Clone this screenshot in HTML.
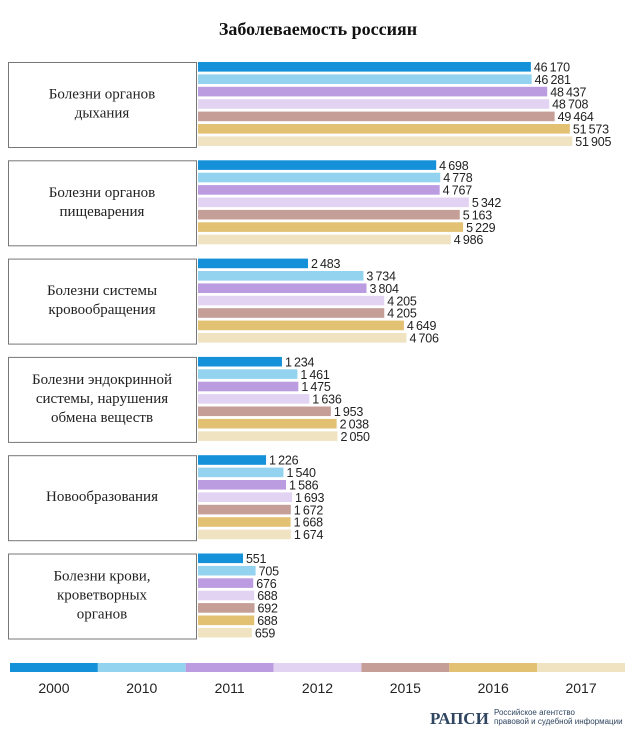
<!DOCTYPE html>
<html><head><meta charset="utf-8">
<style>
body{margin:0;width:640px;height:744px;background:#fff;overflow:hidden;font-family:"Liberation Sans",sans-serif}
svg{display:block}
</style></head><body>
<svg id="chart" width="640" height="744" viewBox="0 0 640 744">
<text x="318" y="35" text-anchor="middle" font-family="Liberation Serif, serif" font-weight="bold" font-size="18" fill="#111">Заболеваемость россиян</text>
<g id="groups"></g>
<g id="legend"></g>
<g>
<text x="430" y="724" font-family="Liberation Serif, serif" font-weight="bold" font-size="17" fill="#2f4560">РАПСИ</text>
<text x="494" y="715" font-size="8" fill="#2f4560">Российское агентство</text>
<text x="494" y="724" font-size="8" fill="#2f4560">правовой и судебной информации</text>
</g>
</svg>
<script>
const categories=[["Болезни органов","дыхания"],["Болезни органов","пищеварения"],["Болезни системы","кровообращения"],["Болезни эндокринной","системы, нарушения","обмена веществ"],["Новообразования"],["Болезни крови,","кроветворных","органов"]];
const years=["2000","2010","2011","2012","2015","2016","2017"];
const values=[
[46170,46281,48437,48708,49464,51573,51905],
[4698,4778,4767,5342,5163,5229,4986],
[2483,3734,3804,4205,4205,4649,4706],
[1234,1461,1475,1636,1953,2038,2050],
[1226,1540,1586,1693,1672,1668,1674],
[551,705,676,688,692,688,659]];
const groupDomainMax=[55480,7890,9030,5880,7207,4896];
const colors=["#1591d9","#93d3ef","#bb9ce0","#e3d3f3","#c59f97","#e2c173","#efe3c2"];
const NS="http://www.w3.org/2000/svg";
const X0=198,W=400;
function xScale(g,v){return X0+v/groupDomainMax[g]*W;}
function mk(t,a){const e=document.createElementNS(NS,t);for(const k in a)e.setAttribute(k,a[k]);return e;}
function fmt(v){const s=String(v);return s.length>3?s.slice(0,s.length-3)+"\u2009"+s.slice(-3):s;}
const G=document.getElementById("groups");
values.forEach((row,g)=>{
  const top=62+g*98.3;
  const box=mk("rect",{x:8.5,y:top+0.5,width:188,height:85,fill:"#fff",stroke:"#777","stroke-width":1});
  
  
  G.appendChild(box);
  const lines=categories[g];
  const lh=19;
  lines.forEach((ln,i)=>{
    const t=mk("text",{x:102,y:top+41+(i-(lines.length-1)/2)*lh+5,"text-anchor":"middle","font-family":"Liberation Serif, serif","font-size":15,fill:"#222"});
    t.textContent=ln;
    
    
    G.appendChild(t);
  });
  row.forEach((v,i)=>{
    const y=top+i*12.4;
    const x1=xScale(g,v);
    const r=mk("rect",{x:X0,y:y,width:x1-X0,height:9.6,fill:colors[i]});
    
    
    G.appendChild(r);
    const t=mk("text",{x:x1+3,y:y+9.5,"font-size":12.5,fill:"#222","letter-spacing":"-0.2"});
    t.textContent=fmt(v);
    
    
    G.appendChild(t);
  });
});
const L=document.getElementById("legend");
const segW=(625-10)/years.length;
years.forEach((yr,i)=>{
  const r=mk("rect",{x:10+i*segW,y:663,width:segW,height:9,fill:colors[i]});
  
  
  L.appendChild(r);
  const t=mk("text",{x:10+i*segW+segW/2,y:693,"text-anchor":"middle","font-size":14,fill:"#222"});
  t.textContent=yr;
  
  
  L.appendChild(t);
});
</script>
</body></html>
